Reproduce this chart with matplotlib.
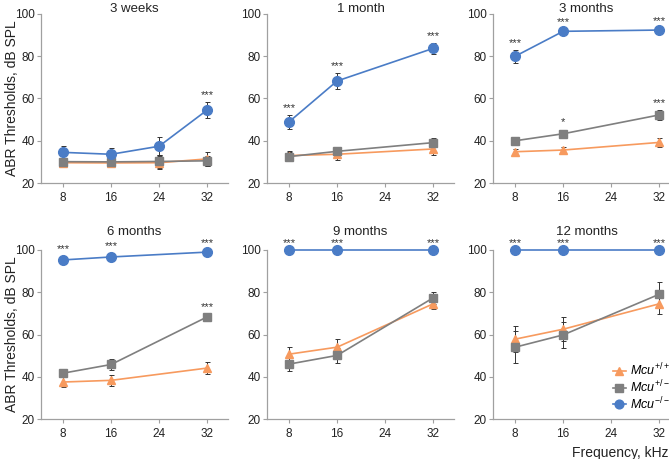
import numpy as np
import matplotlib
matplotlib.use('Agg')
import matplotlib.pyplot as plt

plt.rcParams['font.family'] = ['Liberation Sans', 'DejaVu Sans']
plt.rcParams['mathtext.fontset'] = 'custom'
plt.rcParams['mathtext.rm'] = 'Liberation Sans'
plt.rcParams['mathtext.it'] = 'Liberation Sans:italic'

freqs = [8, 16, 24, 32]
titles = ['3 weeks', '1 month', '3 months', '6 months', '9 months', '12 months']

# frequencies measured in each panel
panel_x = [[8, 16, 24, 32], [8, 16, 32], [8, 16, 32], [8, 16, 32], [8, 16, 32], [8, 16, 32]]
# wild type +/+ (orange triangles)
wt_mean = [[29.6, 29.5, 29.6, 31.4], [33.0, 33.6, 36.1], [34.8, 35.6, 39.2],
           [37.5, 38.3, 44.1], [50.7, 54.0, 74.5], [57.8, 62.5, 74.5]]
wt_err = [[2.0, 2.0, 3.0, 3.5], [2.0, 2.5, 3.0], [1.5, 1.5, 2.0],
          [2.5, 2.5, 3.0], [3.3, 3.8, 2.5], [6.0, 5.7, 4.8]]
# heterozygous +/- (grey squares)
het_mean = [[30.1, 30.0, 30.2, 30.5], [32.5, 35.0, 39.1], [40.0, 43.3, 52.2],
            [41.7, 45.8, 68.3], [46.0, 50.1, 77.3], [54.0, 59.8, 79.0]]
het_err = [[2.5, 2.5, 3.0, 2.5], [2.0, 2.0, 2.0], [1.5, 2.0, 2.2],
           [2.0, 2.5, 1.5], [3.5, 3.6, 2.8], [7.5, 6.3, 5.7]]
# knockout -/- (blue circles)
ko_mean = [[34.5, 33.6, 37.4, 54.5], [49.0, 68.3, 83.7], [80.0, 91.8, 92.4],
           [95.3, 96.7, 99.0], [100, 100, 100], [100, 100, 100]]
ko_err = [[3.2, 3.0, 4.3, 3.7], [3.3, 3.8, 2.4], [3.0, 0.8, 0.8],
          [2.0, 2.0, 0.8], [0, 0, 0], [0, 0, 0]]

# significance marks: (genotype, freq index, text)
stars = [
    [('ko', 3, '***')],
    [('ko', 0, '***'), ('ko', 1, '***'), ('ko', 2, '***')],
    [('ko', 0, '***'), ('ko', 1, '***'), ('ko', 2, '***'), ('het', 1, '*'), ('het', 2, '***')],
    [('ko', 0, '***'), ('ko', 1, '***'), ('ko', 2, '***'), ('het', 2, '***')],
    [('ko', 0, '***'), ('ko', 1, '***'), ('ko', 2, '***')],
    [('ko', 0, '***'), ('ko', 1, '***'), ('ko', 2, '***')],
]

c_wt = '#F79A5E'
c_het = '#7F7F7F'
c_ko = '#4A7CC6'
axis_col = '#A0A0A0'
txt_col = '#222222'

W, H = 669, 459
fig = plt.figure(figsize=(W / 100, H / 100), dpi=100)
lefts = [41, 267, 493]
tops = [14, 250]
aw, ah = 187, 169

for i in range(6):
    l, t = lefts[i % 3], tops[i // 3]
    ax = fig.add_axes([l / W, 1 - (t + ah) / H, aw / W, ah / H])
    xs = panel_x[i]
    series = {
        'wt': (wt_mean[i], wt_err[i], c_wt, '^', 6.0, r'$\mathit{Mcu}^{+/+}$'),
        'het': (het_mean[i], het_err[i], c_het, 's', 5.8, r'$\mathit{Mcu}^{+/-}$'),
        'ko': (ko_mean[i], ko_err[i], c_ko, 'o', 7.0, r'$\mathit{Mcu}^{-/-}$'),
    }
    for key in ['wt', 'het', 'ko']:
        m, e, col, mk, ms, lab = series[key]
        ax.errorbar(xs, m, yerr=e, fmt='none', ecolor='#333333', elinewidth=0.7,
                    capsize=1.8, capthick=0.7, zorder=2, clip_on=False)
        ax.plot(xs, m, color=col, lw=1.2, marker=mk, ms=ms,
                label=lab, zorder=3, clip_on=False)
    for g, j, txt in stars[i]:
        m, e = series[g][0], series[g][1]
        ax.annotate(txt, (xs[j], m[j] + e[j]), xytext=(0, 1.5), textcoords='offset points',
                    ha='center', va='bottom', fontsize=8, color='#333333')

    ax.set_xlim(4.3, 35.5)
    ax.set_ylim(20, 100)
    ax.set_xticks(freqs)
    ax.set_yticks([20, 40, 60, 80, 100])
    ax.tick_params(labelsize=8.5, length=3, width=0.8, color=axis_col, labelcolor=txt_col)
    ax.tick_params(axis='y', pad=1.5)
    ax.tick_params(axis='x', pad=3.5)
    for s in ['top', 'right']:
        ax.spines[s].set_visible(False)
    for s in ['left', 'bottom']:
        ax.spines[s].set_color(axis_col)
        ax.spines[s].set_linewidth(0.9)
    base = [11.5, 235][i // 3]
    fig.text((l + aw / 2) / W, 1 - base / H, titles[i], ha='center', va='baseline',
             fontsize=9.5, color=txt_col)
    if i % 3 == 0:
        fig.text(12 / W, 1 - (t + ah / 2) / H, 'ABR Thresholds, dB SPL', rotation=90,
                 ha='center', va='center', fontsize=10, color=txt_col)
    if i == 5:
        handles, labels = ax.get_legend_handles_labels()
        fig.legend(handles, labels, loc='upper left', bbox_to_anchor=(613 / W, 1 - 362 / H),
                   frameon=False, fontsize=9, handlelength=1.0, handletextpad=0.36,
                   labelspacing=0.0, borderpad=0, borderaxespad=0, markerscale=0.9)

fig.text(1.0, 1 - 457 / H, 'Frequency, kHz', ha='right', va='baseline', fontsize=10,
         color=txt_col)

plt.savefig('out.png', dpi=100)
